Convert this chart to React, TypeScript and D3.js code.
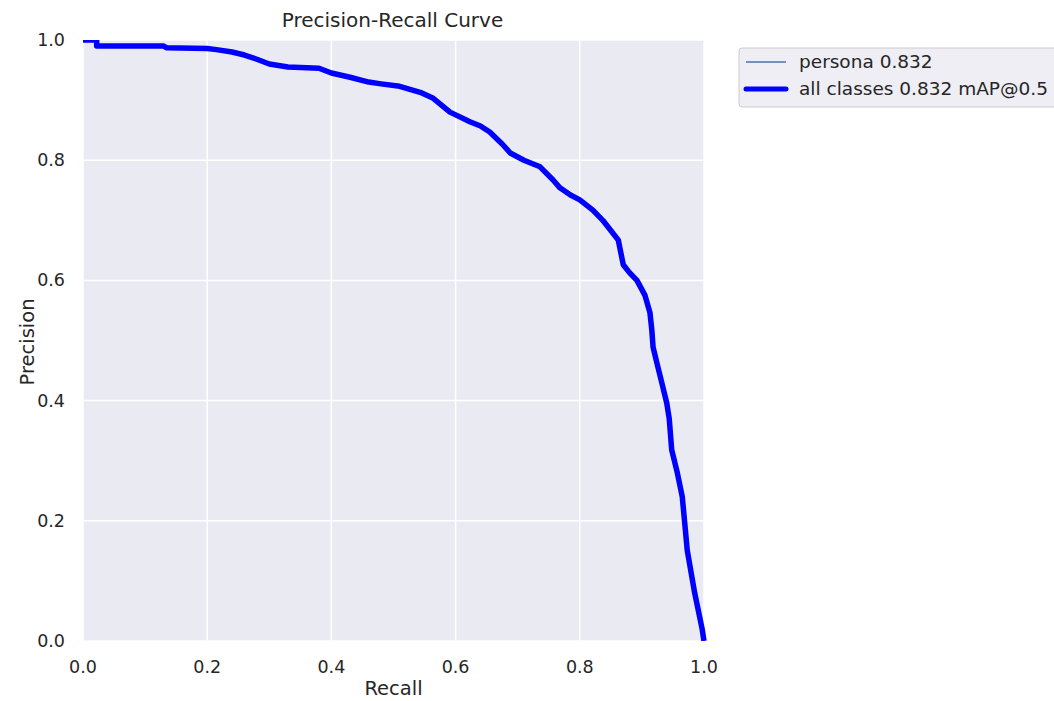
import React from "react";
import * as d3 from "d3";

const recall = [0, 0.022, 0.022, 0.13, 0.135, 0.2, 0.215, 0.24, 0.26, 0.28, 0.3, 0.33, 0.38, 0.4, 0.43, 0.46, 0.48, 0.51, 0.543, 0.564, 0.591, 0.623, 0.64, 0.655, 0.675, 0.688, 0.71, 0.736, 0.757, 0.768, 0.785, 0.8, 0.821, 0.837, 0.85, 0.862, 0.87, 0.88, 0.892, 0.905, 0.913, 0.916, 0.918, 0.924, 0.932, 0.94, 0.944, 0.948, 0.957, 0.965, 0.969, 0.973, 0.985, 0.997, 1.0];
const precision = [1.0, 1.0, 0.99, 0.99, 0.987, 0.986, 0.984, 0.98, 0.975, 0.968, 0.96, 0.955, 0.953, 0.945, 0.938, 0.93, 0.927, 0.923, 0.913, 0.903, 0.88, 0.864, 0.857, 0.847, 0.827, 0.812, 0.8, 0.789, 0.767, 0.754, 0.742, 0.734, 0.717, 0.7, 0.683, 0.667, 0.626, 0.613, 0.6, 0.575, 0.546, 0.517, 0.489, 0.463, 0.43, 0.396, 0.37, 0.318, 0.28, 0.24, 0.196, 0.151, 0.08, 0.02, 0.0];
const ticks = [0, 0.2, 0.4, 0.6, 0.8, 1.0];
const legendLabels = ["persona 0.832", "all classes 0.832 mAP@0.5"];
const title = "Precision-Recall Curve";

const W = 1054, H = 701;
const L = 83, R = 704, T = 40, B = 641;
const font = "'DejaVu Sans', sans-serif";
const txt = "#262626";

export default function App() {
  const x = d3.scaleLinear().domain([0, 1]).range([L, R]);
  const y = d3.scaleLinear().domain([0, 1]).range([B, T]);
  const pts = recall.map((r, i) => [r, precision[i]] as [number, number]);
  const line = d3.line<[number, number]>().x(d => x(d[0])).y(d => y(d[1]));
  const path = line(pts) || "";
  return (
    <svg width={W} height={H} style={{ position: "absolute", left: 0, top: 0, background: "#fff" }}>
      <rect x={L} y={T} width={R - L} height={B - T} fill="#EAEAF2" />
      {ticks.map(t => (
        <g key={"g" + t}>
          <line x1={x(t)} x2={x(t)} y1={T} y2={B} stroke="#fff" strokeWidth={1.5} />
          <line x1={L} x2={R} y1={y(t)} y2={y(t)} stroke="#fff" strokeWidth={1.5} />
        </g>
      ))}
      <clipPath id="clip"><rect x={L - 3} y={T} width={R - L + 6} height={B - T} /></clipPath>
      <g clipPath="url(#clip)">
        <path d={path} fill="none" stroke="#0000ff" strokeWidth={5.5} strokeLinejoin="round" />
      </g>
      {ticks.map(t => (
        <text key={"xt" + t} x={x(t)} y={B + 32} textAnchor="middle" fontFamily={font} fontSize={17.5} fill={txt}>{t.toFixed(1)}</text>
      ))}
      {ticks.map(t => (
        <text key={"yt" + t} x={L - 18} y={y(t) + 6} textAnchor="end" fontFamily={font} fontSize={17.5} fill={txt}>{t.toFixed(1)}</text>
      ))}
      <text x={(L + R) / 2} y={695} textAnchor="middle" fontFamily={font} fontSize={19.5} fill={txt}>Recall</text>
      <text transform={`translate(34,342) rotate(-90)`} textAnchor="middle" fontFamily={font} fontSize={19.5} fill={txt}>Precision</text>
      <text x={(L + R) / 2 - 1} y={27} textAnchor="middle" fontFamily={font} fontSize={20} fill={txt}>{title}</text>
      <rect x={739} y={48} width={330} height={59} rx={3} fill="#EEEEF4" stroke="#cccccc" strokeWidth={1} />
      <line x1={746} x2={786} y1={62} y2={62} stroke="#4c72b0" strokeWidth={1.5} />
      <line x1={746} x2={786} y1={89} y2={89} stroke="#0000ff" strokeWidth={5} strokeLinecap="round" />
      <text x={799} y={68} fontFamily={font} fontSize={18.5} fill={txt}>{legendLabels[0]}</text>
      <text x={799} y={95} fontFamily={font} fontSize={18.5} fill={txt}>{legendLabels[1]}</text>
    </svg>
  );
}
